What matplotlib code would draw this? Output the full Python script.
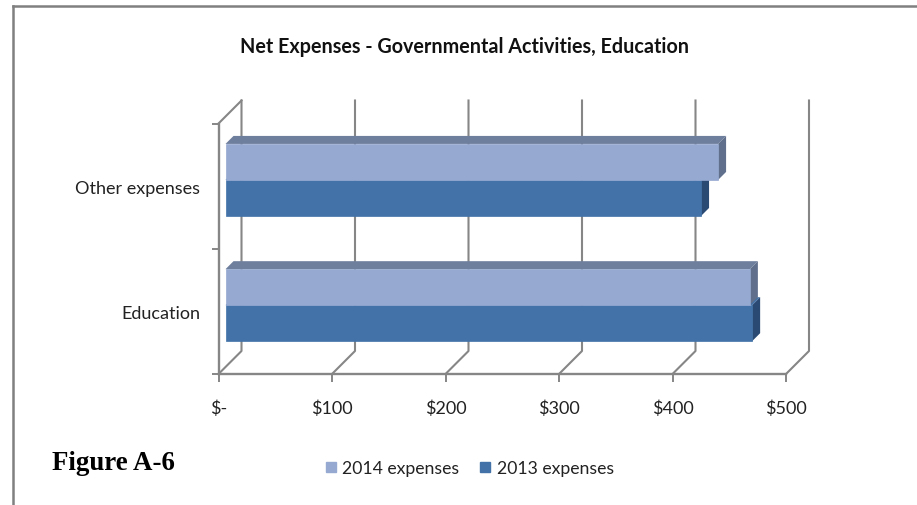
#!/usr/bin/env python3
"""
Net expenses bar chart with a drawn 3D box look.
Creates:
 - out.png
"""
import matplotlib
matplotlib.use("Agg")
import matplotlib.pyplot as plt
from matplotlib.lines import Line2D
from matplotlib.patches import Polygon, Rectangle

categories = ["Education", "Other expenses"]
expenses_2014 = [462, 434]
expenses_2013 = [464, 419]
x_ticks = [0, 100, 200, 300, 400, 500]
x_labels = ["$-", "$100", "$200", "$300", "$400", "$500"]
series_names = ["2014 expenses", "2013 expenses"]
title = "Net Expenses - Governmental Activities, Education"
figure_label = "Figure A-6"

W, H = 917, 506
# plot box in pixels, measured from the top left corner
LEFT, RIGHT, TOP, BOTTOM = 218.5, 786, 124.5, 375
DEPTH = 23  # wall offset, px
BAR_DEPTH = 8  # bar thickness, px
BAR_SHIFT = 7  # bars sit a little behind the front plane, px
BAR_LIFT = 6.2
BAR_H = 36  # px

FONT = ["Lato", "DejaVu Sans"]
TEXT = "#222222"
GRID = "#868686"
LIGHT, LIGHT_TOP, LIGHT_SIDE = "#95a9d1", "#6e7f9e", "#5f6f8c"
DARK, DARK_SIDE = "#4272a8", "#2a4a73"


def add_bar(ax, y_mid, height, width, px_x, px_y, face, top, side, inset):
    # front face, then the top and end faces as parallelograms
    dx, dy = BAR_DEPTH * px_x, BAR_DEPTH * px_y
    ax.add_patch(Rectangle((inset, y_mid), width, height, fc=face, ec=face,
                           lw=0.5, clip_on=False, zorder=4))
    end = inset + width
    ax.add_patch(Polygon([(inset, y_mid + height), (end, y_mid + height),
                          (end + dx, y_mid + height + dy), (inset + dx, y_mid + height + dy)],
                         fc=top, ec="none", clip_on=False, zorder=3))
    ax.add_patch(Polygon([(end, y_mid), (end + dx, y_mid + dy),
                          (end + dx, y_mid + height + dy), (end, y_mid + height)],
                         fc=side, ec="none", clip_on=False, zorder=3))


def main():
    fig = plt.figure(figsize=(W / 100, H / 100), dpi=100, facecolor="white")
    ax = fig.add_axes([LEFT / W, 1 - BOTTOM / H, (RIGHT - LEFT) / W, (BOTTOM - TOP) / H])
    ax.set_xlim(0, 500)
    ax.set_ylim(0, len(categories))
    ax.patch.set_alpha(0)

    # size of one pixel in data units
    px_x = 500 / (RIGHT - LEFT)
    px_y = len(categories) / (BOTTOM - TOP)
    dx, dy = DEPTH * px_x, DEPTH * px_y

    # back wall gridlines and floor diagonals
    for v in x_ticks:
        ax.plot([v, v + dx, v + dx], [0, dy, 2 + dy], color=GRID, lw=1.5,
                clip_on=False, zorder=1)
    ax.plot([0, dx], [2, 2 + dy], color=GRID, lw=1.5, clip_on=False, zorder=1)

    for spine in ("top", "right"):
        ax.spines[spine].set_visible(False)
    for spine in ("left", "bottom"):
        ax.spines[spine].set_color(GRID)
        ax.spines[spine].set_linewidth(1.7)

    ax.set_xticks(x_ticks)
    ax.set_xticklabels(x_labels, fontsize=13, family=FONT, color=TEXT)
    ax.tick_params(axis="x", length=6, width=1.4, color=GRID, pad=12)
    ax.set_yticks(range(len(categories) + 1))
    ax.set_yticklabels([])
    ax.tick_params(axis="y", length=5, width=1.4, color=GRID)

    # bars: 2014 above 2013 in each category
    inset = BAR_SHIFT * px_x
    lift = BAR_LIFT * px_y
    h = BAR_H * px_y
    for i, cat in enumerate(categories):
        mid = i + 0.5 + lift
        add_bar(ax, mid - h, h, expenses_2013[i], px_x, px_y, DARK, DARK, DARK_SIDE, inset)
        add_bar(ax, mid, h, expenses_2014[i], px_x, px_y, LIGHT, LIGHT_TOP, LIGHT_SIDE, inset)
        ax.annotate(cat, (0, i + 0.5), xytext=(-13, -1), textcoords="offset points",
                    ha="right", va="center", fontsize=13, family=FONT, color=TEXT,
                    annotation_clip=False)

    fig.text(464 / W, 1 - 47 / H, title, ha="center", va="center", fontsize=14.2,
             fontweight="bold", family=FONT, color="#111111")
    fig.text(52 / W, 1 - 463 / H, figure_label, ha="left", va="center", fontsize=19.4,
             fontweight="bold", family="Liberation Serif", color="black")

    # legend
    handles = [Line2D([], [], marker="s", ls="none", ms=6.5, color=c) for c in (LIGHT, DARK)]
    fig.legend(handles, series_names, loc="center", bbox_to_anchor=(468 / W, 1 - 469 / H),
               ncol=2, frameon=False, handlelength=1.0, handletextpad=0.15, columnspacing=0.95,
               prop={"family": FONT, "size": 12.7}, labelcolor=TEXT)

    # outer frame along the top and left edges
    fig.add_artist(Line2D([12.5 / W, 1], [1 - 7 / H, 1 - 7 / H], color="#808080", lw=1.8))
    fig.add_artist(Line2D([12.5 / W, 12.5 / W], [0, 1 - 7 / H], color="#808080", lw=1.8))

    fig.savefig("out.png", dpi=100)
    plt.close(fig)


if __name__ == "__main__":
    main()
